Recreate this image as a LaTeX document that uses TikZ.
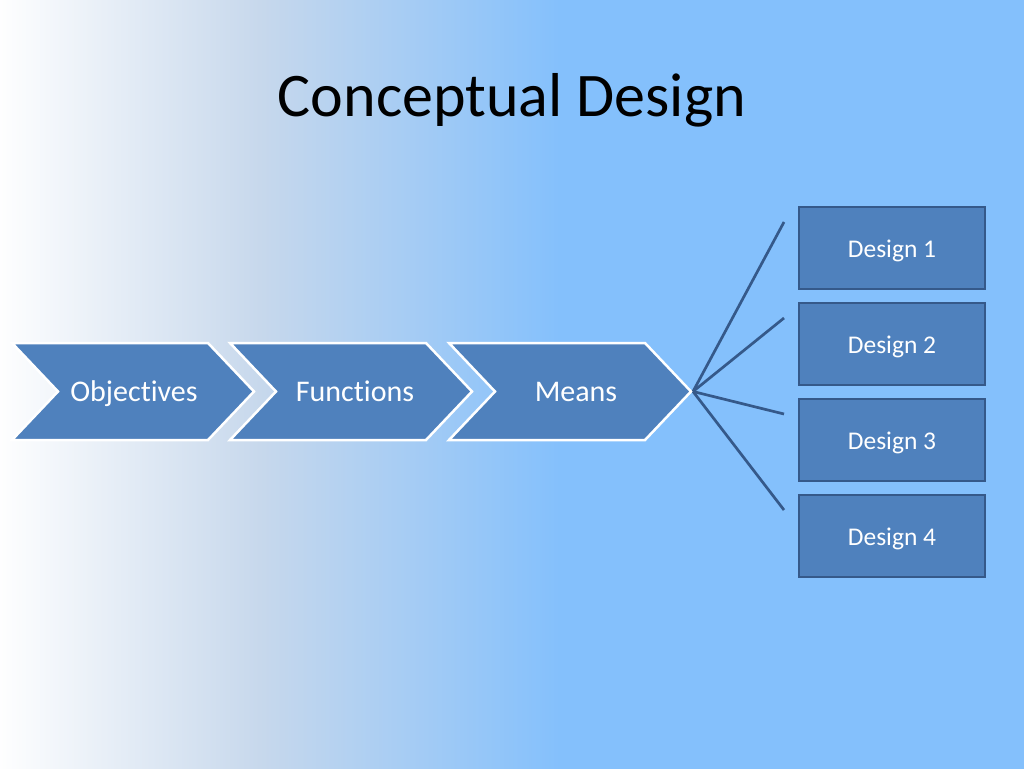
\documentclass[tikz,border=0pt]{standalone}
\usepackage{fontspec}
\setmainfont[Ligatures=NoCommon]{Carlito}
\usetikzlibrary{calc}
\definecolor{bgA}{HTML}{FFFFFF}
\definecolor{bgB}{HTML}{C7D8EC}
\definecolor{bgC}{HTML}{84C0FC}
\definecolor{acc}{HTML}{4F81BD}
\definecolor{accdark}{HTML}{35598A}
\begin{document}
\begin{tikzpicture}[x=1pt,y=-1pt,
  chev/.style={fill=acc,draw=white,line width=2.5pt,line join=miter},
  chevtext/.style={text=white,font=\fontsize{30}{34}\selectfont,anchor=base,inner sep=0pt},
  designbox/.style={fill=acc,draw=accdark,line width=2pt,minimum width=186pt,minimum height=82pt,
    inner sep=0pt,text=white,font=\fontsize{25.5}{30}\selectfont,text height=18pt,text depth=0pt},
  fan/.style={draw=accdark,line width=2.7pt},
  titletext/.style={font=\fontsize{62}{70}\selectfont,anchor=base,inner sep=0pt}]
\useasboundingbox (0,0) rectangle (1024,768);
% background
\fill[bgC] (-5,-5) rectangle (1030,775);
\shade[left color=bgA,right color=bgB] (-5,-5) rectangle (260,775);
\shade[left color=bgB,right color=bgC] (259.5,-5) rectangle (560,775);
% title
\node[titletext] (title) at (512,116) {Conceptual Design};
% chevrons
\foreach \xo in {12,230,449}{
  \path[chev] (\xo,343) -- ({\xo+196},343) -- ({\xo+242},391.5) -- ({\xo+196},440)
    -- (\xo,440) -- ({\xo+46},391.5) -- cycle;
}
\node[chevtext] (obj) at (134,401) {Objectives};
\node[chevtext] (fun) at (355,401) {Functions};
\node[chevtext] (means) at (576,401) {Means};
% design boxes
\node[designbox] (d1) at (892,248) {Design 1};
\node[designbox] (d2) at (892,344) {Design 2};
\node[designbox] (d3) at (892,440) {Design 3};
\node[designbox] (d4) at (892,536) {Design 4};
% fan lines
\coordinate (tip) at (693,391.5);
\coordinate (f1) at ($(d1.north west)+(-14,16)$);
\coordinate (f2) at ($(d2.north west)+(-14,16)$);
\coordinate (f3) at ($(d3.north west)+(-14,16)$);
\coordinate (f4) at ($(d4.north west)+(-14,16)$);
\foreach \f in {f1,f2,f3,f4}{
  \draw[fan] (tip) -- (\f);
}
\end{tikzpicture}
\end{document}
